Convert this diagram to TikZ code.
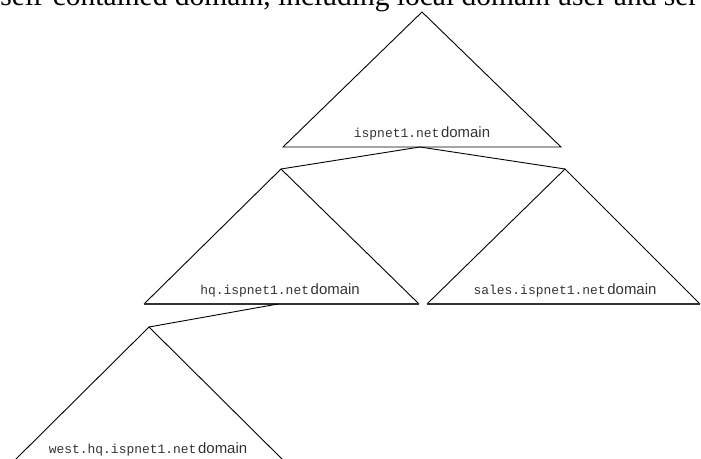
\documentclass[tikz,border=0pt]{standalone}
\usepackage{fontspec}
\setmainfont{Liberation Serif}
\newfontfamily\hostfont{Liberation Mono}
\newfontfamily\wordfont{Liberation Sans}
\newcommand{\domlabel}[1]{{\hostfont\fontsize{13}{13}\selectfont #1}\,{\wordfont\fontsize{15}{15}\selectfont domain}}

\begin{document}
\begin{tikzpicture}[x=1bp, y=-1bp, line width=0.9bp]
  \useasboundingbox (0,0) rectangle (701,459);
  \clip (0,0) rectangle (701,459);

  \node[anchor=base west, inner sep=0, font=\fontsize{29.6}{29.6}\selectfont] (caption) at (0,6)
    {self-contained domain, including local domain user and ser};

  \coordinate (T) at (422,12);
  \coordinate (TL) at (283,147);
  \coordinate (TR) at (561,147);
  \coordinate (TM) at (420,147);
  \coordinate (H) at (281,169);
  \coordinate (HL) at (144,304);
  \coordinate (HR) at (419,304);
  \coordinate (HM) at (278,304);
  \coordinate (S) at (565,169);
  \coordinate (SL) at (427,304);
  \coordinate (SR) at (700,304);
  \coordinate (W) at (149,327);
  \coordinate (WL) at (12,463);
  \coordinate (WR) at (286,463);

  \draw (T)--(TR)--(TL)--cycle;
  \draw (HL)--(H)--(HR);
  \draw (SL)--(S)--(SR);
  \draw (WL)--(W)--(WR);
  \draw[line width=1.7bp, black!80] (HL)--(HR);
  \draw[line width=1.7bp, black!80] (SL)--(SR);

  \draw (TM)--(H);
  \draw (TM)--(S);
  \draw (HM)--(W);

  \node[anchor=base, inner sep=0, black!80] (topdom) at (422,138) {\domlabel{ispnet1.net}};
  \node[anchor=base, inner sep=0, black!80] (hqdom) at (280,295) {\domlabel{hq.ispnet1.net}};
  \node[anchor=base, inner sep=0, black!80] (salesdom) at (565,295) {\domlabel{sales.ispnet1.net}};
  \node[anchor=base, inner sep=0, black!80] (westdom) at (148,453) {\domlabel{west.hq.ispnet1.net}};
\end{tikzpicture}
\end{document}
